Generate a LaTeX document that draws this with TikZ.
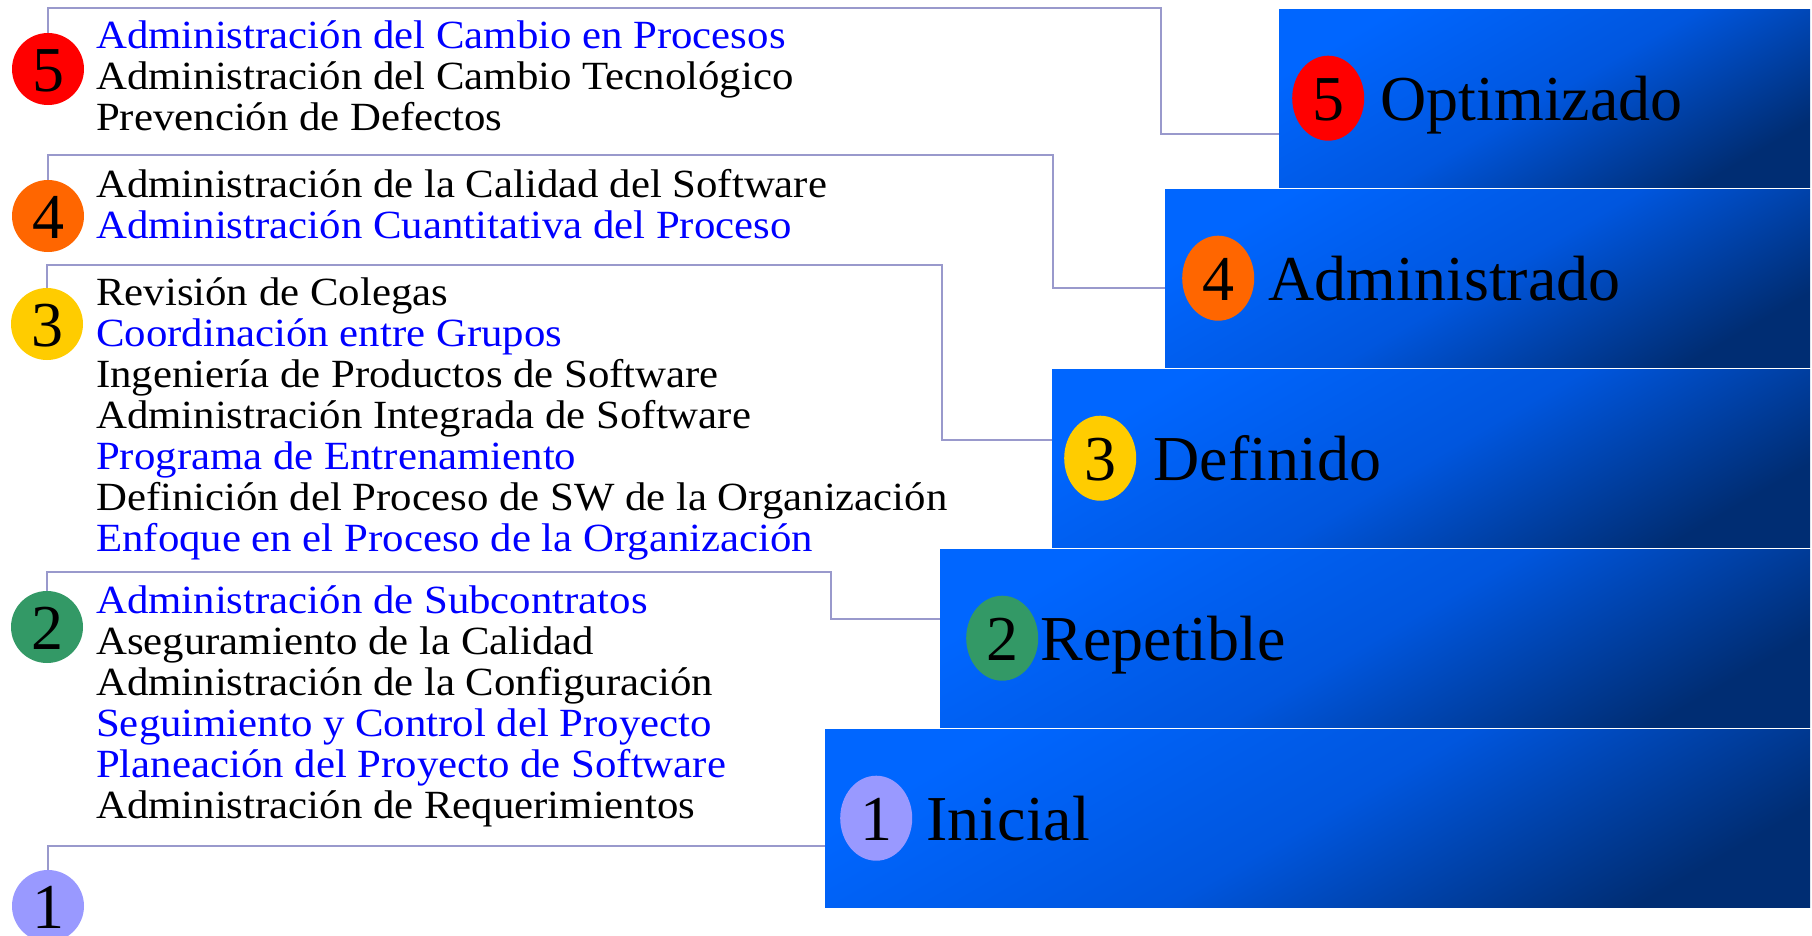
\documentclass[tikz,border=0pt]{standalone}
\usepackage{fontspec}
\setmainfont{Liberation Serif}
\newfontfamily\listfont[FakeStretch=1.07]{Liberation Serif}
\usetikzlibrary{positioning,shapes.geometric}
\definecolor{boxLight}{RGB}{0,102,255}
\definecolor{boxMid}{RGB}{0,86,222}
\definecolor{boxDark}{RGB}{0,45,115}
\definecolor{linkLilac}{RGB}{153,153,204}
\definecolor{itemBlue}{RGB}{0,0,255}
\definecolor{lvlRed}{RGB}{255,0,0}
\definecolor{lvlOrange}{RGB}{255,102,0}
\definecolor{lvlYellow}{RGB}{255,204,0}
\definecolor{lvlGreen}{RGB}{51,153,102}
\definecolor{lvlLilac}{RGB}{153,153,255}
\newcommand{\bl}[1]{\textcolor{itemBlue}{#1}}
\tikzset{
  level box/.style={anchor=north west,minimum height=178pt,inner sep=0pt,top color=boxLight,bottom color=boxDark,middle color=boxMid,shading angle=30},
  level dot/.style={ellipse,inner sep=0pt,minimum width=72pt,minimum height=85pt,font=\fontsize{64}{64}\selectfont,text height=45pt,text depth=0pt},
  list dot/.style={circle,inner sep=0pt,minimum size=72pt,font=\fontsize{64}{64}\selectfont,text height=45pt,text depth=0pt},
  level label/.style={inner sep=0pt,font=\fontsize{64}{64}\selectfont,text height=45pt,text depth=0pt},
  item list/.style={anchor=base west,align=left,inner sep=0pt,font=\listfont\fontsize{40}{41}\selectfont},
  link line/.style={draw=linkLilac,line width=2.5pt}
}

\begin{document}
\begin{tikzpicture}[x=1pt,y=-1pt]
  \useasboundingbox (0,0) rectangle (1812,935);
  % staircase of levels
  \node[level box,minimum width=531pt] (box5) at (1279,9) {};
  \node[level box,minimum width=645pt] (box4) at (1165,189) {};
  \node[level box,minimum width=758pt] (box3) at (1052,369) {};
  \node[level box,minimum width=870pt] (box2) at (940,549) {};
  \node[level box,minimum width=985pt] (box1) at (825,729) {};
  \node[level dot,fill=lvlRed,right=13pt of box5.west] (bdot5) {5};
  \node[level dot,fill=lvlOrange,right=17pt of box4.west] (bdot4) {4};
  \node[level dot,fill=lvlYellow,right=12pt of box3.west] (bdot3) {3};
  \node[level dot,fill=lvlGreen,right=26pt of box2.west] (bdot2) {2};
  \node[level dot,fill=lvlLilac,right=15pt of box1.west] (bdot1) {1};
  \node[level label,right=16pt of bdot5] (lab5) {Optimizado};
  \node[level label,right=14pt of bdot4] (lab4) {Administrado};
  \node[level label,right=17pt of bdot3] (lab3) {Definido};
  \node[level label,right=2pt of bdot2] (lab2) {Repetible};
  \node[level label,right=14pt of bdot1] (lab1) {Inicial};
  % key process areas (anchored on the last line)
  \node[list dot,fill=lvlRed] (ldot5) at (48,69) {5};
  \node[list dot,fill=lvlOrange] (ldot4) at (48,216) {4};
  \node[list dot,fill=lvlYellow] (ldot3) at (47,324) {3};
  \node[list dot,fill=lvlGreen] (ldot2) at (47,627) {2};
  \node[list dot,fill=lvlLilac] (ldot1) at (48,906) {1};
  \node[item list] (kpa5) at (96,130) {\bl{Administración del Cambio en Procesos}\\Administración del Cambio Tecnológico\\Prevención de Defectos};
  \node[item list] (kpa4) at (96,238) {Administración de la Calidad del Software\\\bl{Administración Cuantitativa del Proceso}};
  \node[item list] (kpa3) at (96,551) {Revisión de Colegas\\\bl{Coordinación entre Grupos}\\Ingeniería de Productos de Software\\Administración Integrada de Software\\\bl{Programa de Entrenamiento}\\Definición del Proceso de SW de la Organización\\\bl{Enfoque en el Proceso de la Organización}};
  \node[item list] (kpa2) at (96,818) {\bl{Administración de Subcontratos}\\Aseguramiento de la Calidad\\Administración de la Configuración\\\bl{Seguimiento y Control del Proyecto}\\\bl{Planeación del Proyecto de Software}\\Administración de Requerimientos};
  % links
  \draw[link line] (ldot5.north) |- (1161,8) |- (box5.west |- 0,134);
  \draw[link line] (ldot4.north) |- (1053,155) |- (box4.west |- 0,288);
  \draw[link line] (ldot3.north) |- (942,265) |- (box3.west |- 0,440);
  \draw[link line] (ldot2.north) |- (831,572) |- (box2.west |- 0,619);
  \draw[link line] (ldot1.north) |- (box1.west |- 0,846);
\end{tikzpicture}
\end{document}
